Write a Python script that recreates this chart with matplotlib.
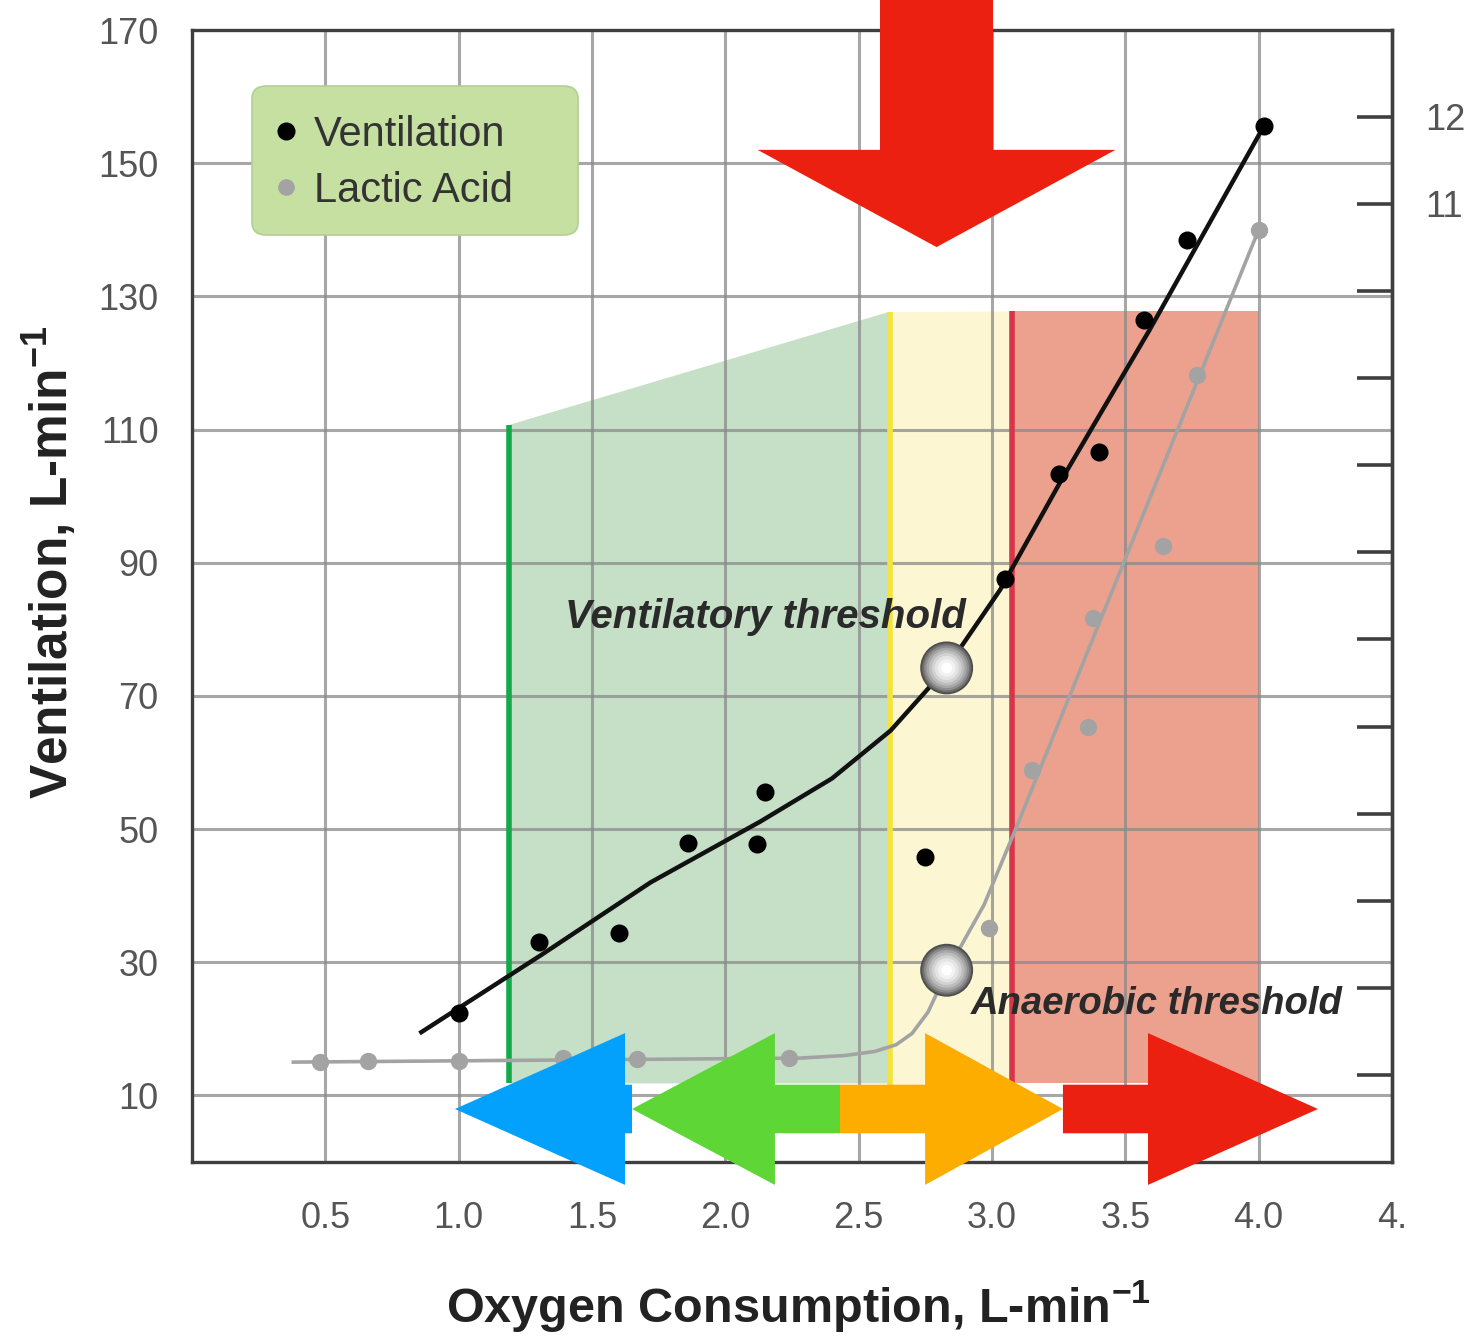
import matplotlib
matplotlib.use("Agg")
import matplotlib.pyplot as plt
from matplotlib.patches import FancyArrow, Polygon, FancyBboxPatch
from matplotlib.lines import Line2D
from matplotlib import font_manager

# ---------------- data ----------------
vent_x = [1.00, 1.30, 1.60, 1.86, 2.12, 2.15, 2.75, 3.05, 3.25, 3.40, 3.57, 3.73, 4.02]
vent_y = [22.4, 33.0, 34.4, 47.9, 47.8, 55.6, 45.8, 87.5, 103.3, 106.6, 126.4, 138.5, 155.6]

lact_x = [0.48, 0.66, 1.00, 1.39, 1.67, 2.24, 2.99, 3.15, 3.36, 3.38, 3.64, 3.77, 4.00]
lact_y = [15.0, 15.2, 15.2, 15.6, 15.5, 15.6, 35.1, 58.9, 65.3, 81.7, 92.5, 118.2, 140.0]

vent_fit_x = [0.86, 1.31, 1.72, 2.13, 2.40, 2.62, 2.83, 3.03, 3.26, 3.59, 4.02]
vent_fit_y = [19.5, 31.1, 42.0, 51.1, 57.6, 64.8, 74.2, 85.9, 102.4, 124.9, 155.6]

lact_fit_x = [0.38, 2.28, 2.45, 2.56, 2.64, 2.70, 2.76, 2.83, 2.90, 2.97, 3.10, 4.00]
lact_fit_y = [15.0, 15.6, 16.0, 16.6, 17.6, 19.3, 22.5, 28.5, 33.6, 38.6, 51.1, 140.0]

vt_point = (2.83, 74.2)   # ventilatory threshold
at_point = (2.83, 28.8)   # anaerobic threshold

zone_x = [1.19, 2.617, 3.075, 4.00]        # green / yellow / red boundaries
zone_top = [110.7, 127.7, 127.8, 127.8]
zone_bottom = 11.8

x_ticks = [0.5, 1.0, 1.5, 2.0, 2.5, 3.0, 3.5, 4.0, 4.5]
x_tick_labels = ["0.5", "1.0", "1.5", "2.0", "2.5", "3.0", "3.5", "4.0", "4."]
y_ticks = [10, 30, 50, 70, 90, 110, 130, 150, 170]
right_ticks = list(range(1, 13))
right_tick_labels = ["" for _ in range(10)] + ["11", "12"]

# ---------------- fonts ----------------
avail = {f.name for f in font_manager.fontManager.ttflist}
narrow = "Liberation Sans Narrow" if "Liberation Sans Narrow" in avail else "Liberation Sans"
plt.rcParams["font.family"] = [narrow, "DejaVu Sans"]

W, H = 1471, 1339
fig = plt.figure(figsize=(W / 100, H / 100), dpi=100)
ax = fig.add_axes([192 / W, 1 - 1162 / H, 1200 / W, 1132 / H])
ax.set_xlim(0, 4.5)
ax.set_ylim(0, 170)

spine_c = "#3f3f3f"
for s in ax.spines.values():
    s.set_color(spine_c)
    s.set_linewidth(2.4)

ax.set_axisbelow(True)
ax.grid(True, color="#8a8a8a", lw=2.2, alpha=0.75)
ax.set_xticks(x_ticks)
ax.set_xticklabels(x_tick_labels, family="Liberation Sans")
ax.set_yticks(y_ticks)
ax.set_yticklabels([str(v) for v in y_ticks], family="Liberation Sans")
ax.tick_params(axis="both", length=0, labelsize=26, labelcolor="#555555")
ax.tick_params(axis="x", pad=28)
ax.tick_params(axis="y", pad=24)

# ---------------- zones ----------------
green_poly = Polygon([(zone_x[0], zone_bottom), (zone_x[0], zone_top[0]),
                      (zone_x[1], zone_top[1]), (zone_x[1], zone_bottom)],
                     closed=True, facecolor="#c6e0c7", edgecolor="none", zorder=0.2)
ax.add_patch(green_poly)
ax.fill_between([zone_x[1], zone_x[2]], [4.4, 4.4], [zone_top[1], zone_top[2]],
                color="#fcf6d3", lw=0, zorder=0.2)
ax.fill_between([zone_x[2], zone_x[3]], [zone_bottom, zone_bottom], [zone_top[2], zone_top[3]],
                color="#eca18f", lw=0, zorder=0.2)
ax.plot([zone_x[0], zone_x[0]], [zone_bottom, zone_top[0]], color="#14a84b", lw=4, zorder=1.5, solid_capstyle="butt")
ax.plot([zone_x[1], zone_x[1]], [4.4, zone_top[1]], color="#f2e43c", lw=4, zorder=1.5, solid_capstyle="butt")
ax.plot([zone_x[2], zone_x[2]], [zone_bottom, zone_top[2]], color="#d8344a", lw=4, zorder=1.5, solid_capstyle="butt")

# ---------------- lines and points ----------------
ax.plot(lact_fit_x, lact_fit_y, color="#a3a3a3", lw=2.6, zorder=2)
ax.plot(lact_x, lact_y, "o", color="#a3a3a3", ms=12.5, mec="none", zorder=2.2)
ax.plot(vent_fit_x, vent_fit_y, color="#111111", lw=3.2, zorder=3)
ax.plot(vent_x, vent_y, "o", color="#000000", ms=13, mec="none", zorder=3.2)

sizes = [1450, 1250, 1050, 850, 650, 460, 300, 160, 60]
shades = ["#4e4e4e", "#6e6e6e", "#8c8c8c", "#a6a6a6", "#bdbdbd", "#d2d2d2", "#e4e4e4", "#f2f2f2", "#ffffff"]
for (px, py) in (vt_point, at_point):
    for s, c in zip(sizes, shades):
        ax.scatter([px], [py], s=s, color=c, edgecolors="none", zorder=4)

ax.text(2.15, 81.8, "Ventilatory threshold", fontsize=29, fontweight="bold", fontstyle="italic",
        color="#2a2a2a", ha="center", va="center", zorder=4.5)
ax.text(2.92, 23.7, "Anaerobic threshold", fontsize=27.5, fontweight="bold", fontstyle="italic",
        color="#2a2a2a", ha="left", va="center", zorder=4.5)

# ---------------- legend ----------------
box = FancyBboxPatch((0.05, 0.8189), 0.2717, 0.1316, transform=ax.transAxes,
                     boxstyle="round,pad=0,rounding_size=0.012", facecolor="#c5e0a0",
                     edgecolor="#b3cf92", lw=1.2, zorder=5, mutation_aspect=1132 / 1200)
ax.add_patch(box)
handles = [Line2D([], [], ls="none", marker="o", color="#000000", ms=13, mec="none"),
           Line2D([], [], ls="none", marker="o", color="#a3a3a3", ms=12, mec="none")]
leg = ax.legend(handles, ["Ventilation", "Lactic Acid"], loc="upper left",
                bbox_to_anchor=(0.061, 0.925), fontsize=30, frameon=False,
                handletextpad=0.17, handlelength=1.0, borderpad=0.0, labelspacing=0.38,
                borderaxespad=0)
for t in leg.get_texts():
    t.set_color("#333333")
leg.set_zorder(5.5)

# ---------------- arrows ----------------
arrow_y = 7.96
shaft_w = 7.3
head_w = 22.8
arrow_specs = [
    # (start_x, end_x, head_length, color)
    (2.43, 1.650, 2.186 - 1.650, "#5dd636"),
    (1.650, 0.986, 1.624 - 0.986, "#03a1fb"),
    (2.43, 3.266, 3.266 - 2.749, "#fcad00"),
    (3.266, 4.2225, 4.2225 - 3.585, "#ec2010"),
]
for x0, x1, hl, col in arrow_specs:
    ax.add_patch(FancyArrow(x0, arrow_y, x1 - x0, 0, width=shaft_w, head_width=head_w,
                            head_length=hl, length_includes_head=True, color=col,
                            lw=0, clip_on=False, zorder=6))
ax.add_patch(FancyArrow(2.792, 175.0, 0, 137.4 - 175.0, width=0.424, head_width=1.342,
                        head_length=14.6, length_includes_head=True, color="#ec2010",
                        lw=0, clip_on=False, zorder=6))

# ---------------- axis labels ----------------
ax.set_ylabel(r"Ventilation, L-min$^{\mathregular{-1}}$", fontsize=37, fontweight="bold",
              color="#222222", va="center")
ax.yaxis.set_label_coords(-0.118, 0.53)
ax.set_xlabel(r"Oxygen Consumption, L-min$^{\mathregular{-1}}$", fontsize=35, fontweight="bold",
              color="#222222", va="center")
ax.xaxis.set_label_coords(0.505, -0.127)

# ---------------- right axis ----------------
ax2 = ax.twinx()
ax2.set_ylim(0, 170 / 13.08)
for k in ("left", "top", "bottom"):
    ax2.spines[k].set_visible(False)
ax2.spines["right"].set_color(spine_c)
ax2.spines["right"].set_linewidth(2.4)
ax2.set_yticks(right_ticks)
ax2.set_yticklabels(right_tick_labels, family="Liberation Sans")
ax2.tick_params(axis="y", direction="in", length=25, width=2.6, color=spine_c,
                labelsize=26, labelcolor="#555555", pad=24)
ax2.patch.set_visible(False)
ax.set_zorder(1)
ax2.set_zorder(2)

fig.savefig("out.png", dpi=100)
